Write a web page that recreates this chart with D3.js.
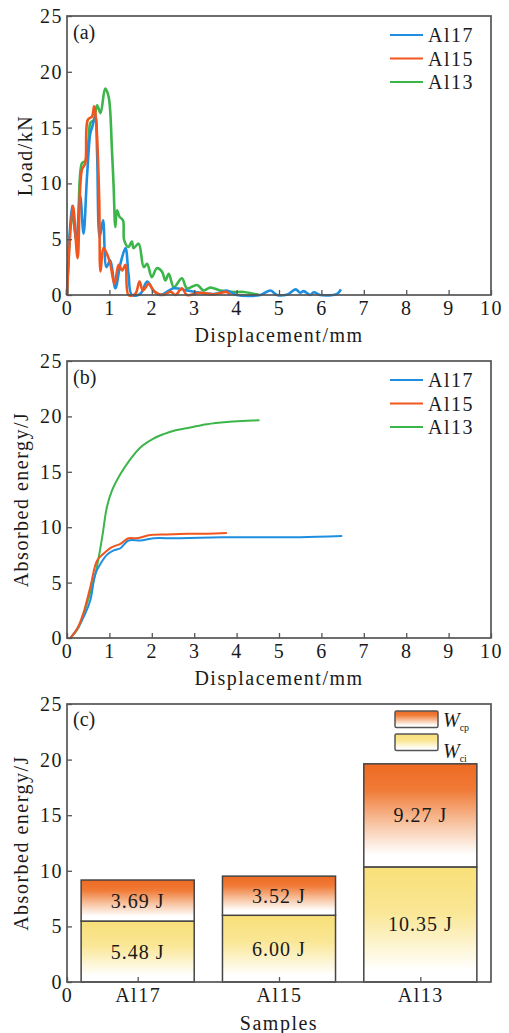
<!DOCTYPE html>
<html>
<head>
<meta charset="utf-8">
<script src="https://cdn.jsdelivr.net/npm/d3@7"></script>
<style>
  body { margin: 0; background: #fff; }
</style>
</head>
<body>
<div id="chart"></div>
<script>
// ---- data ----
var seriesNames = ["Al17", "Al15", "Al13"];
var seriesColors = ["#1e8fe0", "#f0561e", "#3cb54a"];

// (a) load vs displacement, [mm, kN]
var loadAl17 = [[0,0],[0.12,8.0],[0.22,4.9],[0.31,8.9],[0.39,5.5],[0.47,10.5],[0.55,14.5],[0.59,15.0],[0.67,16.0],
  [0.71,12.7],[0.77,5.2],[0.85,6.7],[0.93,2.5],[1.02,3.1],[1.14,0.6],[1.26,2.8],[1.38,4.2],[1.45,1.9],[1.53,0],
  [1.73,0.1],[1.89,1.2],[2.04,0.4],[2.2,0],[2.52,0.6],[2.83,0.4],[3.14,0.2],[3.5,0.1],[3.77,0.4],[4.0,0],[4.56,0],
  [4.8,0.4],[4.95,0],[5.2,0.05],[5.39,0.5],[5.5,0.2],[5.58,0.35],[5.74,0],[5.82,0.25],[5.97,0],[6.37,0.1],[6.46,0.5]];
var loadAl15 = [[0,0],[0.14,8.0],[0.25,3.3],[0.35,11.2],[0.43,11.8],[0.49,15.7],[0.59,16.0],[0.64,16.9],[0.69,15.4],
  [0.76,8.5],[0.79,2.1],[0.86,4.2],[0.94,3.7],[1.02,2.8],[1.12,1.0],[1.22,2.7],[1.30,2.2],[1.38,2.7],[1.45,0],
  [1.61,0.1],[1.71,1.2],[1.79,0.4],[1.93,1.0],[2.06,0.3],[2.28,0],[2.44,0.3],[2.56,0],[2.71,0.6],[2.83,0],
  [3.14,0.2],[3.46,0.05],[3.77,0.27],[3.85,0]];
var loadAl13 = [[0,0],[0.12,7.0],[0.24,4.9],[0.35,11.8],[0.43,12.0],[0.51,13.9],[0.55,15.4],[0.63,15.7],[0.71,17.0],
  [0.79,16.3],[0.90,18.5],[0.98,17.8],[1.06,13.0],[1.10,9.7],[1.14,6.1],[1.18,7.6],[1.24,7.0],[1.32,6.7],[1.35,4.9],
  [1.45,4.3],[1.53,4.8],[1.57,4.2],[1.69,4.6],[1.81,2.5],[1.89,2.8],[2.0,1.6],[2.12,2.4],[2.24,2.1],[2.32,1.3],
  [2.40,1.9],[2.52,0.7],[2.71,1.5],[2.83,0.6],[3.07,0.9],[3.22,0.4],[3.38,0.66],[3.62,0.4],[3.93,0.27],[4.17,0.27],
  [4.4,0.1],[4.52,0.05]];

// (b) absorbed energy vs displacement, [mm, J]
var energyAl17 = [[0.08,0],[0.25,0.9],[0.43,2.2],[0.55,3.4],[0.67,5.8],[0.79,6.7],[0.94,7.5],[1.10,7.9],[1.26,8.1],
  [1.45,8.8],[1.73,8.8],[2.04,9.0],[2.52,9.0],[3.14,9.05],[3.93,9.1],[4.72,9.1],[5.5,9.1],[6.49,9.2]];
var energyAl15 = [[0.08,0],[0.25,0.9],[0.39,2.3],[0.55,4.6],[0.71,7.0],[0.86,7.6],[1.06,8.2],[1.26,8.5],[1.45,9.0],
  [1.65,9.0],[1.97,9.3],[2.36,9.35],[2.83,9.4],[3.30,9.42],[3.77,9.48]];
var energyAl13 = [[0.08,0],[0.28,1.0],[0.47,3.1],[0.67,5.8],[0.83,9.1],[0.94,11.8],[1.06,13.3],[1.26,14.8],[1.45,15.9],
  [1.73,17.2],[2.04,18.0],[2.28,18.4],[2.52,18.7],[2.91,19.0],[3.30,19.3],[3.77,19.5],[4.25,19.6],[4.54,19.65]];

// (c) stacked bars, J
var wci = [5.48, 6.00, 10.35];
var wcp = [3.69, 3.52, 9.27];

var W = 509, H = 1033;
var left = 67, right = 491;
var serif = "Liberation Serif, Tinos, Times New Roman, serif";
var fontSize = "20px", spacing = "1.5px";

var svg = d3.select("#chart").append("svg")
  .attr("width", W).attr("height", H)
  .style("font-family", serif);

// every text gets the same serif look
function txt(sel, ls) {
  return sel.style("font-family", serif).style("font-size", fontSize)
    .style("letter-spacing", ls || spacing).style("fill", "#1a1a1a");
}

var defs = svg.append("defs");
function addGradient(id, stops) {
  var g = defs.append("linearGradient").attr("id", id)
    .attr("x1", 0).attr("y1", 0).attr("x2", 0).attr("y2", 1);
  stops.forEach(function(s) {
    g.append("stop").attr("offset", s[0]).attr("stop-color", s[1]);
  });
}
addGradient("gradCp", [["0%", "#ee6a22"], ["25%", "#f07a36"], ["60%", "#f8c8a8"], ["88%", "#ffffff"]]);
addGradient("gradCi", [["0%", "#f8df78"], ["40%", "#fae796"], ["90%", "#ffffff"]]);

// common frame + y axis
function drawFrame(g, x, y, top, bottom) {
  var ax = g.append("g")
    .attr("transform", "translate(" + left + ",0)")
    .call(d3.axisLeft(y).tickValues([0,5,10,15,20,25]).tickSize(-5).tickPadding(4));
  ax.select(".domain").remove();
  txt(ax.selectAll("text"));
  ax.selectAll(".tick line").attr("stroke", "#555").attr("stroke-width", 1.3);

  g.append("rect")
    .attr("x", left).attr("y", top)
    .attr("width", right - left).attr("height", bottom - top)
    .attr("fill", "none").attr("stroke", "#555").attr("stroke-width", 1.7);
}

function styleBottom(a) {
  a.select(".domain").remove();
  txt(a.selectAll("text"));
  a.selectAll(".tick line").attr("stroke", "#555").attr("stroke-width", 1.3);
}

function yTitle(g, text, cx, cy) {
  txt(g.append("text")
    .attr("transform", "translate(" + cx + "," + cy + ") rotate(-90)")
    .attr("text-anchor", "middle").attr("dy", "0.35em"))
    .text(text);
}

function drawLinePanel(opt) {
  var g = svg.append("g");
  var x = d3.scaleLinear().domain([0, 10]).range([left, right]);
  var y = d3.scaleLinear().domain([0, 25]).range([opt.bottom, opt.top]);

  var line = d3.line()
    .x(function(d) { return x(d[0]); })
    .y(function(d) { return y(d[1]); })
    .curve(d3.curveCatmullRom.alpha(0.5));

  // green first so it sits underneath like in the figure
  [2, 0, 1].forEach(function(i) {
    g.append("path")
      .datum(opt.data[i])
      .attr("d", line)
      .attr("fill", "none")
      .attr("stroke", seriesColors[i])
      .attr("stroke-width", opt.lw)
      .attr("stroke-linejoin", "round");
  });

  drawFrame(g, x, y, opt.top, opt.bottom);

  g.append("g")
    .attr("transform", "translate(0," + opt.bottom + ")")
    .call(d3.axisBottom(x).tickValues(d3.range(0, 11)).tickSize(-5).tickPadding(6))
    .call(styleBottom);

  txt(g.append("text")
    .attr("x", (left + right) / 2).attr("y", opt.bottom + 47)
    .attr("text-anchor", "middle"))
    .text("Displacement/mm");

  yTitle(g, opt.ytitle, opt.ytx, (opt.top + opt.bottom) / 2);

  txt(g.append("text").attr("x", 73).attr("y", opt.top + 23), "0px")
    .text(opt.tag);

  // legend
  var leg = g.append("g").attr("transform", "translate(390," + (opt.top + 19) + ")");
  seriesNames.forEach(function(name, i) {
    leg.append("line")
      .attr("x1", 0).attr("x2", 33)
      .attr("y1", i * 23.5).attr("y2", i * 23.5)
      .attr("stroke", seriesColors[i]).attr("stroke-width", 2);
    txt(leg.append("text").attr("x", 38).attr("y", i * 23.5 + 7))
      .text(name);
  });
}

drawLinePanel({ top: 16, bottom: 295, data: [loadAl17, loadAl15, loadAl13], lw: 2.6,
  ytitle: "Load/kN", ytx: 25, tag: "(a)" });
drawLinePanel({ top: 361, bottom: 638, data: [energyAl17, energyAl15, energyAl13], lw: 2,
  ytitle: "Absorbed energy/J", ytx: 21, tag: "(b)" });

// ---- (c) stacked bars ----
(function() {
  var top = 704, bottom = 982;
  var g = svg.append("g");
  var x = d3.scaleLinear().domain([0, 3]).range([left, right]);
  var y = d3.scaleLinear().domain([0, 25]).range([bottom, top]);
  var bw = x(0.8) - x(0);
  var pos = [0.5, 1.5, 2.5];

  var bars = g.selectAll(".bar").data(seriesNames).enter().append("g");
  bars.append("rect")
    .attr("x", function(d, i) { return x(pos[i]) - bw / 2; })
    .attr("y", function(d, i) { return y(wci[i]); })
    .attr("width", bw)
    .attr("height", function(d, i) { return y(0) - y(wci[i]); })
    .attr("fill", "url(#gradCi)").attr("stroke", "#444").attr("stroke-width", 1.5);
  bars.append("rect")
    .attr("x", function(d, i) { return x(pos[i]) - bw / 2; })
    .attr("y", function(d, i) { return y(wci[i] + wcp[i]); })
    .attr("width", bw)
    .attr("height", function(d, i) { return y(wci[i]) - y(wci[i] + wcp[i]); })
    .attr("fill", "url(#gradCp)").attr("stroke", "#444").attr("stroke-width", 1.5);

  txt(bars.append("text")
    .attr("x", function(d, i) { return x(pos[i]); })
    .attr("y", function(d, i) { return y(wci[i] / 2); })
    .attr("text-anchor", "middle").attr("dy", "0.35em"), "1px")
    .text(function(d, i) { return wci[i].toFixed(2) + " J"; });
  txt(bars.append("text")
    .attr("x", function(d, i) { return x(pos[i]); })
    .attr("y", function(d, i) { return y(wci[i] + wcp[i] / 2); })
    .attr("text-anchor", "middle").attr("dy", "0.35em"), "1px")
    .text(function(d, i) { return wcp[i].toFixed(2) + " J"; });

  drawFrame(g, x, y, top, bottom);

  g.append("g")
    .attr("transform", "translate(0," + bottom + ")")
    .call(d3.axisBottom(x).tickValues([0].concat(pos)).tickSize(-5).tickPadding(6)
      .tickFormat(function(d, i) { return i === 0 ? "0" : seriesNames[i - 1]; }))
    .call(styleBottom);

  txt(g.append("text")
    .attr("x", (left + right) / 2).attr("y", bottom + 48)
    .attr("text-anchor", "middle"))
    .text("Samples");

  yTitle(g, "Absorbed energy/J", 21, (top + bottom) / 2);

  txt(g.append("text").attr("x", 73).attr("y", top + 22), "0px").text("(c)");

  // legend
  var legItems = [["gradCp", "cp", 711, 727], ["gradCi", "ci", 734, 758]];
  legItems.forEach(function(it) {
    g.append("rect")
      .attr("x", 395).attr("y", it[2]).attr("width", 43).attr("height", 16.5)
      .attr("rx", 1.5)
      .attr("fill", "url(#" + it[0] + ")").attr("stroke", "#555").attr("stroke-width", 1.5);
    var t = txt(g.append("text").attr("x", 443).attr("y", it[3]), "0px");
    t.append("tspan").style("font-style", "italic").text("W");
    t.append("tspan").attr("dy", 4).style("font-size", "10px").text(it[1]);
  });
})();
</script>
</body>
</html>
